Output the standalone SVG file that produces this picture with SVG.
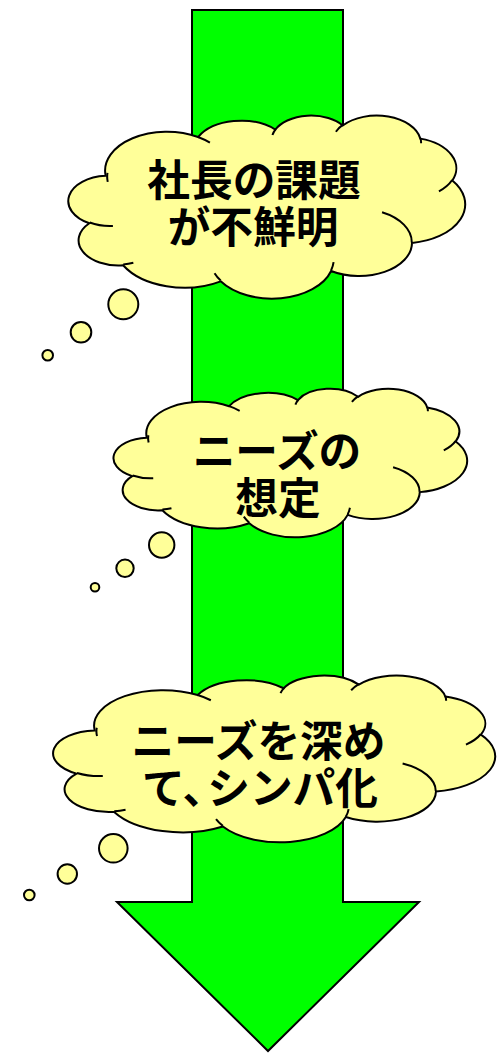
<svg xmlns="http://www.w3.org/2000/svg" xmlns:xlink="http://www.w3.org/1999/xlink" width="501" height="1053" viewBox="0 0 501 1053">
  <style>
    .arrow { fill: #00FF00; stroke: #000000; stroke-width: 2; stroke-linejoin: miter; }
    .cloud { fill: #FFFF99; stroke: #000000; stroke-width: 2; }
    .crease { fill: none; stroke: #000000; stroke-width: 2; }
    .bubble { fill: #FFFF99; stroke: #000000; stroke-width: 2; }
    .label { font-family: "Noto Sans CJK JP", "Noto Sans CJK SC", sans-serif; font-weight: bold; font-size: 42.7px; fill: #000000; text-anchor: middle; }
  </style>
  <defs>
    <path id="cloudOutline" vector-effect="non-scaling-stroke" d="M 3900 14370 A 6753 9190 0 0 1 14005 5202 A 5333 7267 0 0 1 22456 3430 A 4365 5945 0 0 1 29832 2477 A 4857 6595 0 0 1 38317 5574 A 5333 7273 0 0 1 41817 15458 A 6775 9220 0 0 1 37404 30204 A 5785 7867 0 0 1 28556 36814 A 6752 9215 0 0 1 16481 39266 A 7720 10543 0 0 1 5807 35474 A 4360 5918 0 0 1 2116 25552 A 4345 5945 0 0 1 3900 14370 Z"/>
    <path id="cloudCreases" vector-effect="non-scaling-stroke" d="M 4693 26177 A 4345 5945 0 0 1 2159 25379 M 6928 34899 A 4360 5918 0 0 1 5820 35281 M 16478 39090 A 6752 9215 0 0 1 15809 37348 M 28827 34751 A 6752 9215 0 0 1 28561 36660 M 34129 22954 A 5785 7867 0 0 1 37380 30089 M 41798 15354 A 5333 7273 0 0 1 40349 18031 M 38324 5426 A 4857 6595 0 0 1 38400 6690 M 29078 3952 A 4857 6595 0 0 1 29820 2340 M 22141 4720 A 4365 5945 0 0 1 22500 3330 M 14000 5192 A 6753 9190 0 0 1 15300 6540 M 4127 15789 A 6753 9190 0 0 1 4097 13656"/>
  </defs>

  <g id="arrow">
    <polygon class="arrow" points="192,10 343,10 343,902 419,902 268,1051 117,902 192,902"/>
  </g>

  <g id="cloud1">
    <g transform="translate(70,115) scale(0.0091435,0.0042361)">
      <use xlink:href="#cloudOutline" class="cloud"/>
      <use xlink:href="#cloudCreases" class="crease"/>
    </g>
    <circle class="bubble" cx="123.3" cy="304.3" r="15"/>
    <circle class="bubble" cx="81" cy="332.3" r="10.3"/>
    <circle class="bubble" cx="47.7" cy="355.3" r="5.3"/>
    <text class="label"><tspan x="254" y="196">社長の課題</tspan><tspan x="253" y="243">が不鮮明</tspan></text>
  </g>

  <g id="cloud2">
    <g transform="translate(115,388.3) scale(0.0081481,0.0034375)">
      <use xlink:href="#cloudOutline" class="cloud"/>
      <use xlink:href="#cloudCreases" class="crease"/>
    </g>
    <circle class="bubble" cx="161.7" cy="545" r="12.7"/>
    <circle class="bubble" cx="125" cy="568.3" r="8.7"/>
    <circle class="bubble" cx="95" cy="587.3" r="4.3"/>
    <text class="label"><tspan x="277" y="467">ニーズの</tspan><tspan x="278" y="514">想定</tspan></text>
  </g>

  <g id="cloud3">
    <g transform="translate(55,675) scale(0.0101852,0.0038588)">
      <use xlink:href="#cloudOutline" class="cloud"/>
      <use xlink:href="#cloudCreases" class="crease"/>
    </g>
    <circle class="bubble" cx="113.3" cy="848.3" r="14.3"/>
    <circle class="bubble" cx="67.3" cy="874" r="9.7"/>
    <circle class="bubble" cx="29.3" cy="895" r="5.3"/>
    <text class="label"><tspan x="258.5" y="757">ニーズを深め</tspan><tspan x="260" y="804" dx="0 0 -18">て、シンパ化</tspan></text>
  </g>

  <g id="connectors"></g>
</svg>
